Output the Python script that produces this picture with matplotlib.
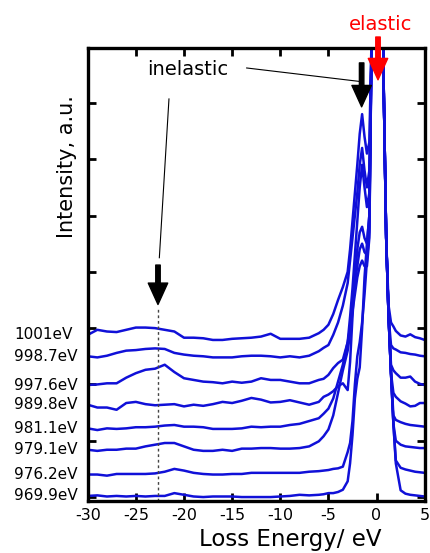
import numpy as np
import matplotlib
matplotlib.use("Agg")
import matplotlib.pyplot as plt

# loss energy grid (eV), shared by all spectra
energy = [-30, -29, -28, -27, -26, -25, -24, -23, -22, -21, -20, -19, -18,
          -17, -16, -15, -14, -13, -12, -11, -10, -9, -8, -7, -6,
          -5.5, -5, -4.5, -4, -3.5, -3, -2.75, -2.5, -2.25, -2, -1.75, -1.5,
          -1.25, -1, -0.75, -0.5, 0, 0.5, 0.75, 1, 1.25, 1.5, 1.75, 2,
          2.5, 3, 3.5, 4, 4.5, 5]

# excitation energies, top to bottom
labels = ["1001eV", "998.7eV", "997.6eV", "989.8eV", "981.1eV",
          "979.1eV", "976.2eV", "969.9eV"]

# spectra, already offset (a.u.)
s1001 = [2.88, 2.97, 2.94, 2.93, 2.97, 3.01, 3.01, 3.00, 2.97, 2.94, 2.83, 2.83, 2.82,
         2.79, 2.79, 2.81, 2.82, 2.83, 2.85, 2.90, 2.81, 2.81, 2.81, 2.83, 2.91,
         2.97, 3.06, 3.25, 3.50, 3.73, 4.00, 4.40, 4.90, 5.40, 5.90, 6.45, 6.80,
         6.40, 6.10, 6.30, 8.30, 14.0, 11.0, 7.20, 4.60, 3.40, 3.10, 3.03, 2.95,
         2.87, 2.85, 2.89, 2.84, 2.82, 2.79]
s998 = [2.50, 2.48, 2.51, 2.56, 2.60, 2.61, 2.63, 2.64, 2.63, 2.56, 2.53, 2.51, 2.50,
        2.48, 2.48, 2.48, 2.50, 2.51, 2.51, 2.50, 2.48, 2.50, 2.48, 2.51, 2.59,
        2.65, 2.70, 2.88, 3.10, 3.40, 3.80, 4.20, 4.60, 5.00, 5.40, 5.90, 6.20,
        5.80, 5.50, 5.80, 8.30, 14.0, 11.0, 7.20, 4.60, 3.20, 2.70, 2.64, 2.62,
        2.57, 2.56, 2.54, 2.53, 2.51, 2.50]
s997 = [1.99, 2.00, 2.02, 2.02, 2.12, 2.20, 2.26, 2.28, 2.35, 2.22, 2.11, 2.08, 2.05,
        2.04, 2.02, 2.05, 2.03, 2.05, 2.11, 2.08, 2.08, 2.05, 2.02, 2.02, 2.08,
        2.10, 2.17, 2.29, 2.38, 2.44, 2.75, 3.20, 3.70, 4.30, 4.90, 5.50, 5.90,
        5.50, 5.15, 5.40, 8.30, 14.0, 11.0, 7.20, 4.60, 3.20, 2.35, 2.25, 2.20,
        2.12, 2.12, 2.14, 2.05, 2.01, 1.99]
s989 = [1.64, 1.59, 1.59, 1.55, 1.67, 1.69, 1.65, 1.63, 1.64, 1.65, 1.61, 1.64, 1.62,
        1.65, 1.69, 1.67, 1.71, 1.76, 1.73, 1.68, 1.69, 1.72, 1.68, 1.64, 1.69,
        1.78, 1.82, 1.88, 1.97, 2.02, 1.90, 2.40, 3.20, 3.90, 4.40, 4.70, 4.80,
        4.60, 4.50, 5.00, 8.30, 14.0, 11.0, 7.20, 4.60, 3.20, 2.20, 1.85, 1.78,
        1.70, 1.66, 1.61, 1.62, 1.67, 1.67]
s981 = [1.22, 1.19, 1.22, 1.21, 1.22, 1.24, 1.24, 1.25, 1.27, 1.28, 1.25, 1.25, 1.24,
        1.21, 1.21, 1.21, 1.22, 1.25, 1.24, 1.25, 1.25, 1.28, 1.30, 1.35, 1.40,
        1.48, 1.57, 1.75, 2.05, 2.35, 2.75, 3.00, 3.40, 3.80, 4.10, 4.40, 4.50,
        4.35, 4.30, 4.80, 8.30, 14.0, 11.0, 7.20, 4.60, 3.20, 2.20, 1.45, 1.37,
        1.33, 1.30, 1.28, 1.27, 1.26, 1.25]
s979 = [0.84, 0.82, 0.84, 0.84, 0.86, 0.86, 0.90, 0.93, 0.96, 0.96, 0.90, 0.84, 0.82,
        0.82, 0.84, 0.82, 0.86, 0.86, 0.87, 0.87, 0.86, 0.86, 0.87, 0.90, 0.99,
        1.08, 1.20, 1.45, 1.85, 2.25, 2.60, 2.90, 3.30, 3.60, 3.90, 4.10, 4.20,
        4.10, 4.10, 4.60, 8.30, 14.0, 11.0, 7.20, 4.60, 3.20, 2.20, 1.30, 1.00,
        0.93, 0.90, 0.89, 0.88, 0.87, 0.87]
s976 = [0.40, 0.40, 0.38, 0.41, 0.41, 0.41, 0.41, 0.42, 0.45, 0.50, 0.47, 0.43, 0.41,
        0.40, 0.40, 0.41, 0.41, 0.43, 0.43, 0.43, 0.43, 0.43, 0.43, 0.45, 0.46,
        0.47, 0.48, 0.50, 0.51, 0.54, 0.80, 0.96, 1.35, 2.00, 2.50, 2.75, 3.10,
        3.60, 4.20, 4.70, 8.30, 14.0, 11.0, 7.20, 4.60, 3.20, 2.20, 1.30, 0.65,
        0.52, 0.49, 0.47, 0.45, 0.44, 0.43]
s969 = [0.02, 0.03, 0.01, 0.02, 0.01, 0.02, 0.01, 0.02, 0.02, 0.07, 0.04, 0.01, 0.00,
        0.01, 0.01, 0.01, 0.00, 0.00, 0.00, 0.00, 0.01, 0.02, 0.04, 0.03, 0.04,
        0.05, 0.07, 0.07, 0.09, 0.13, 0.28, 0.60, 1.10, 1.75, 2.10, 2.30, 3.00,
        3.90, 4.50, 5.00, 8.30, 14.0, 11.0, 7.20, 4.60, 3.20, 2.20, 1.30, 0.60,
        0.12, 0.06, 0.04, 0.03, 0.02, 0.01]
spectra = [s1001, s998, s997, s989, s981, s979, s976, s969]

xticks = [-30, -25, -20, -15, -10, -5, 0, 5]
inelastic_E = -22.7

W, H = 430, 553
fig = plt.figure(figsize=(W / 100, H / 100), dpi=100)
ax = fig.add_axes([87.7 / W, 1 - 501 / H, 337 / W, 453.3 / H])

for s in spectra:
    ax.plot(energy, s, color="#1010d8", lw=1.8)

ax.set_xlim(-30, 5)
ax.set_ylim(-0.07, 7.98)
ax.set_xticks(xticks)
ax.set_xticklabels([str(t) for t in xticks], fontsize=11.5)
ax.set_yticks(range(0, 8))
ax.set_yticklabels([])
ax.tick_params(direction="in", length=6, width=2, top=True, right=True, pad=5)
for sp in ax.spines.values():
    sp.set_linewidth(2.4)

# curve labels on the left
for lab, s in zip(labels, spectra):
    ax.text(-0.218, s[0], lab, transform=ax.get_yaxis_transform(),
            ha="left", va="center", fontsize=11)

# dotted guide at the inelastic feature
ax.plot([inelastic_E, inelastic_E], [-0.07, 3.35], ls=(0, (2, 2)), color="#444444", lw=1)

arrow = "simple,head_length=1.1,head_width=1.0,tail_width=0.23"
ax.annotate("", xy=(inelastic_E, 3.42), xytext=(inelastic_E, 4.12),
            arrowprops=dict(arrowstyle=arrow, mutation_scale=14, color="black",
                            shrinkA=0, shrinkB=0))
ax.annotate("", xy=(-1.55, 6.93), xytext=(-1.55, 7.71),
            arrowprops=dict(arrowstyle=arrow, mutation_scale=14, color="black",
                            shrinkA=0, shrinkB=0))
ax.annotate("", xy=(0.15, 7.41), xytext=(0.15, 8.17), annotation_clip=False,
            arrowprops=dict(arrowstyle=arrow, mutation_scale=14, color="red",
                            shrinkA=0, shrinkB=0, clip_on=False))

ax.text(-19.6, 7.49, "inelastic", ha="center", va="baseline", fontsize=14)
ax.plot([-13.49, -1.72], [7.62, 7.38], color="black", lw=0.8)
ax.plot([-21.56, -22.56], [7.07, 4.25], color="black", lw=0.8)

fig.text(381 / W, 1 - 30 / H, "elastic", color="red", ha="center",
         va="baseline", fontsize=14)
fig.text(290 / W, 1 - 546 / H, "Loss Energy/ eV", ha="center", va="baseline",
         fontsize=16.5)
fig.text(67 / W, 1 - 167 / H, "Intensity, a.u.", ha="center", va="center",
         rotation=90, fontsize=15)

fig.savefig("out.png", dpi=100)
